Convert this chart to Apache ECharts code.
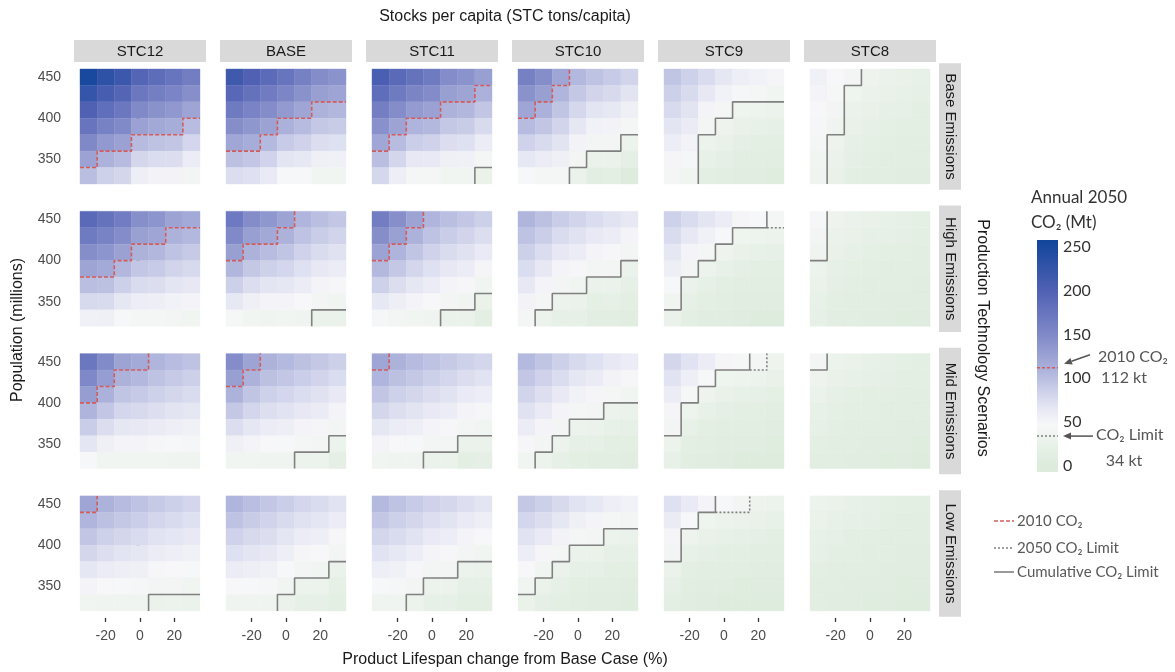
<!DOCTYPE html>
<html>
<head>
<meta charset="utf-8">
<script src="https://cdn.jsdelivr.net/npm/echarts@6/dist/echarts.min.js"></script>
<style>
  html, body { margin: 0; padding: 0; background: #ffffff; }
  #chart { width: 1175px; height: 672px; }
</style>
</head>
<body>
<div id="chart"></div>
<script>
// ---- facets, axes and ticks ----
const stcLabels = ['STC12', 'BASE', 'STC11', 'STC10', 'STC9', 'STC8'];
const scenarioLabels = ['Base Emissions', 'High Emissions', 'Mid Emissions', 'Low Emissions'];
const lifespanSteps = [-30, -20, -10, 0, 10, 20, 30];          // % change from base case
const populationSteps = [450, 430, 410, 390, 370, 350, 330];   // millions, top row first
const lifespanTicks = [-20, 0, 20];
const populationTicks = [350, 400, 450];
const colorbarTicks = [0, 50, 100, 150, 200, 250];
const co2Of2010 = 112;
const co2Limit = 34;

// ---- annual 2050 CO2 (Mt): one inner list per lifespan step (-30 ... 30),
//      each running from 450 down to 330 million people ----
const co2Base_STC12 = [
  [250,225,200,175,150,125,100],[232,208,183,159,134,110,85],[218,195,172,149,126,103,80],
  [195,172,149,126,103,80,57],[185,163,141,119,97,75,53],[176,156,135,115,94,74,53],[165,144,123,102,81,60,39]];
const co2Base_BASE = [
  [215,192,168,145,121,98,74],[200,179,157,136,115,93,72],[188,167,146,125,104,83,62],
  [176,154,133,111,90,68,47],[160,141,122,103,84,65,46],[146,128,110,92,74,56,38],[140,123,106,89,72,55,38]];
const co2Base_STC11 = [
  [205,184,163,142,121,100,79],[190,168,146,124,102,80,58],[178,155,132,109,87,64,42],
  [168,147,126,105,84,63,42],[146,128,110,92,74,56,38],[140,123,106,89,72,55,38],[128,111,94,77,60,43,26]];
const co2Base_STC10 = [
  [160,141,122,103,84,65,46],[145,128,111,94,77,60,43],[122,108,95,82,69,56,42],
  [105,92,79,66,53,40,27],[96,82,68,54,40,26,12],[90,78,65,53,40,28,15],[82,69,56,43,30,17,4]];
const co2Base_STC9 = [
  [95,86,77,68,59,50,41],[85,77,69,61,53,45,37],[76,64,52,40,30,22,15],
  [66,54,42,32,24,17,11],[58,45,33,24,17,12,8],[54,41,31,23,16,11,7],[50,38,29,21,15,10,6]];
const co2Base_STC8 = [
  [55,52,48,45,41,38,35],[48,44,40,36,32,28,24],[40,33,28,24,20,17,14],
  [32,28,24,21,18,15,12],[28,25,21,18,15,13,10],[25,22,19,16,13,11,9],[22,19,16,14,12,10,8]];

const co2High_STC12 = [
  [190,168,145,123,100,78,55],[178,158,138,118,98,77,56],[166,146,126,106,86,66,46],
  [144,127,110,93,76,59,42],[138,122,106,90,74,58,42],[124,110,96,82,68,54,40],[118,105,91,78,64,51,37]];
const co2High_BASE = [
  [170,149,128,107,86,65,44],[146,128,110,92,74,56,38],[136,119,102,85,68,51,36],
  [124,110,95,81,66,52,37],[108,96,84,72,60,48,36],[100,88,76,64,52,40,28],[93,82,71,60,49,38,27]];
const co2High_STC11 = [
  [165,145,125,105,85,65,45],[144,127,109,92,74,57,39],[124,110,95,81,66,52,37],
  [108,96,84,72,60,48,36],[100,88,76,64,52,40,28],[93,82,71,60,49,38,27],[86,74,62,50,38,26,14]];
const co2High_STC10 = [
  [108,97,86,75,64,53,42],[98,87,75,64,52,41,29],[88,76,64,52,40,29,20],
  [82,71,60,49,38,28,19],[75,63,51,39,27,18,11],[70,60,49,39,28,20,13],[64,52,40,28,20,14,9]];
const co2High_STC9 = [
  [85,76,66,57,47,38,28],[76,64,52,40,28,20,14],[68,55,42,29,20,14,9],
  [60,46,32,23,16,11,7],[50,33,24,17,12,8,5],[46,31,22,16,11,7,4],[42,29,21,15,10,7,4]];
const co2High_STC8 = [
  [45,40,35,30,26,22,19],[32,28,24,20,17,14,12],[28,24,21,18,15,12,10],
  [25,21,18,15,13,11,9],[22,19,16,13,11,9,7],[20,17,14,12,10,8,6],[18,15,13,11,9,7,5]];

const co2Mid_STC12 = [
  [172,151,130,109,88,67,46],[148,130,111,93,74,56,37],[124,110,95,81,66,52,37],
  [118,105,91,78,64,51,37],[108,96,85,73,61,49,37],[102,91,80,69,58,47,36],[96,86,76,66,55,45,35]];
const co2Mid_BASE = [
  [146,128,110,92,74,56,38],[124,110,95,81,66,52,37],[110,98,85,73,60,48,35],
  [104,93,81,70,58,47,35],[98,87,75,64,52,41,29],[92,82,71,61,50,40,29],[86,75,63,52,40,29,17]];
const co2Mid_STC11 = [
  [122,108,94,80,66,52,38],[110,98,85,73,60,48,35],[103,92,80,69,58,46,35],
  [97,86,74,63,51,40,28],[91,81,70,60,49,39,28],[85,74,62,51,39,28,16],[80,70,59,49,38,28,17]];
const co2Mid_STC10 = [
  [104,93,82,71,60,49,38],[95,84,73,62,51,40,29],[86,75,63,52,40,29,20],
  [78,66,54,42,30,21,14],[72,61,50,39,28,20,13],[64,53,41,30,22,15,10],[60,49,38,27,20,14,9]];
const co2Mid_STC9 = [
  [80,70,60,50,40,30,22],[70,57,44,31,22,16,11],[60,46,32,23,16,11,7],
  [50,33,24,17,12,8,5],[44,31,22,16,11,7,4],[40,29,21,15,10,7,4],[32,24,18,13,9,6,3]];
const co2Mid_STC8 = [
  [40,32,27,23,19,16,13],[30,25,21,18,15,12,10],[26,22,18,15,13,10,8],
  [23,19,16,14,11,9,7],[20,17,14,12,10,8,6],[18,15,13,11,9,7,5],[16,14,12,10,8,6,4]];

const co2Low_STC12 = [
  [122,108,94,80,66,52,38],[110,98,85,73,60,48,35],[103,92,80,69,58,46,35],
  [97,87,76,66,56,45,35],[91,81,70,60,49,39,28],[86,77,67,58,48,39,29],[81,72,63,55,46,37,28]];
const co2Low_BASE = [
  [108,96,84,72,60,48,36],[100,89,78,68,57,46,35],[93,83,74,64,55,45,35],
  [87,77,67,57,47,37,27],[81,71,60,50,39,29,20],[76,67,57,48,38,29,21],[70,60,49,39,28,20,14]];
const co2Low_STC11 = [
  [104,93,81,70,58,47,35],[96,86,76,65,55,45,35],[90,80,70,59,49,39,29],
  [84,73,62,51,40,29,19],[79,69,59,49,39,29,20],[73,62,51,40,29,21,15],[68,58,48,38,28,20,14]];
const co2Low_STC10 = [
  [92,81,70,59,48,37,26],[86,74,62,50,38,26,17],[78,66,53,41,28,20,14],
  [70,56,42,28,20,14,10],[65,52,39,26,19,13,9],[58,43,30,21,15,10,7],[54,40,28,20,14,9,6]];
const co2Low_STC9 = [
  [72,61,50,39,28,20,14],[62,47,32,23,16,11,7],[52,33,24,17,12,8,5],
  [46,30,22,16,11,7,4],[40,28,20,14,10,6,4],[32,24,17,12,8,5,3],[29,22,16,11,7,5,3]];
const co2Low_STC8 = [
  [30,26,22,19,16,13,11],[26,22,19,16,13,11,9],[23,19,16,14,11,9,7],
  [20,17,14,12,10,8,6],[18,15,13,11,9,7,5],[16,13,11,9,8,6,4],[14,12,10,8,7,5,4]];

// ---- limit boundaries: population edge per lifespan step (null = no edge in that step) ----
const N = null;
const edge2010_Base = [[340,360,360,380,380,380,400],[360,360,380,400,400,420,420],[360,380,400,400,420,420,440],[400,420,440,N,N,N,N],N,N];
const edge2010_High = [[380,380,400,420,420,440,440],[400,420,420,440,N,N,N],[400,420,440,N,N,N,N],N,N,N];
const edge2010_Mid  = [[400,420,440,440,N,N,N],[420,440,N,N,N,N,N],[440,N,N,N,N,N,N],N,N,N];
const edge2010_Low  = [[440,N,N,N,N,N,N],N,N,N,N,N];

const edgeCumulative_Base = [N,N,[N,N,N,N,N,N,340],[N,N,N,340,360,360,380],[N,N,380,400,420,420,420],[N,380,440,N,N,N,N]];
const edgeCumulative_High = [N,[N,N,N,N,N,340,340],[N,N,N,N,340,340,360],[N,340,360,360,380,380,400],[340,380,400,420,440,440,N],[400,N,N,N,N,N,N]];
const edgeCumulative_Mid  = [N,[N,N,N,N,340,340,360],[N,N,N,340,340,360,360],[N,340,360,380,380,400,400],[360,400,420,440,440,N,N],[440,N,N,N,N,N,N]];
const edgeCumulative_Low  = [[N,N,N,N,340,340,340],[N,N,N,340,360,360,380],[N,N,340,360,360,380,380],[340,360,380,400,400,420,420],[380,420,440,N,N,N,N],N];

const edge2050_Base = [N,N,[N,N,N,N,N,N,340],[N,N,N,340,360,360,380],[N,N,380,400,420,420,420],[N,380,440,N,N,N,N]];
const edge2050_High = [N,[N,N,N,N,N,340,340],[N,N,N,N,340,340,360],[N,340,360,360,380,380,400],[340,380,400,420,440,440,440],[400,N,N,N,N,N,N]];
const edge2050_Mid  = [N,[N,N,N,N,340,340,360],[N,N,N,340,340,360,360],[N,340,360,380,380,400,400],[360,400,420,440,440,440,N],[440,N,N,N,N,N,N]];
const edge2050_Low  = [[N,N,N,N,340,340,340],[N,N,N,340,360,360,380],[N,N,340,360,360,380,380],[340,360,380,400,400,420,420],[380,420,440,440,440,N,N],N];

// ---- assembled per facet row ----
const co2Rows = [
  [co2Base_STC12, co2Base_BASE, co2Base_STC11, co2Base_STC10, co2Base_STC9, co2Base_STC8],
  [co2High_STC12, co2High_BASE, co2High_STC11, co2High_STC10, co2High_STC9, co2High_STC8],
  [co2Mid_STC12, co2Mid_BASE, co2Mid_STC11, co2Mid_STC10, co2Mid_STC9, co2Mid_STC8],
  [co2Low_STC12, co2Low_BASE, co2Low_STC11, co2Low_STC10, co2Low_STC9, co2Low_STC8]];
const edge2010Rows = [edge2010_Base, edge2010_High, edge2010_Mid, edge2010_Low];
const edgeCumulativeRows = [edgeCumulative_Base, edgeCumulative_High, edgeCumulative_Mid, edgeCumulative_Low];
const edge2050Rows = [edge2050_Base, edge2050_High, edge2050_Mid, edge2050_Low];

// ---- colour scale: green below the limit, white, then deepening blue ----
const colorStops = [[0,'#dcebdc'],[20,'#e6f0e6'],[34,'#eff4ef'],[48,'#f7f7f9'],[70,'#e1e3f2'],
                    [112,'#aab0da'],[150,'#8089c8'],[200,'#5061b4'],[258,'#10459a']];
function hexRgb(h) { return [1,3,5].map(i => parseInt(h.slice(i, i + 2), 16)); }
function co2Color(v) {
  if (v <= colorStops[0][0]) return colorStops[0][1];
  for (let i = 1; i < colorStops.length; i++) {
    const [v1, c1] = colorStops[i];
    if (v <= v1) {
      const [v0, c0] = colorStops[i - 1];
      const t = (v - v0) / (v1 - v0), a = hexRgb(c0), b = hexRgb(c1);
      return 'rgb(' + a.map((x, k) => Math.round(x + (b[k] - x) * t)).join(',') + ')';
    }
  }
  return colorStops[colorStops.length - 1][1];
}

// ---- layout ----
const FONT = '"Liberation Sans", Arial, sans-serif';
const LEG_FONT = 'Lato, "Open Sans", sans-serif';
const tileLeft = 80, colPitch = 146, tileW = 120;
const tileTop = 69, rowPitch = 142.3, tileH = 115;
const panelPad = 6;
const halfStep = (lifespanSteps[1] - lifespanSteps[0]) / 2;
const halfPop = (populationSteps[0] - populationSteps[1]) / 2;
const xMin = lifespanSteps[0] - halfStep, xMax = lifespanSteps[6] + halfStep;
const yMin = populationSteps[6] - halfPop, yMax = populationSteps[0] + halfPop;
const cbMin = -7, cbMax = 258;
const limitGrey = '#808080', red2010 = '#d25c5c';

// staircase through the cell edges of one boundary
function stepPath(t) {
  if (!t) return [];
  const i0 = t.findIndex(v => v !== null);
  if (i0 < 0) return [];
  let i1 = t.length - 1;
  while (t[i1] === null) i1--;
  const pts = [];
  if (i0 > 0) pts.push([lifespanSteps[i0] - halfStep, yMin]);
  for (let i = i0; i <= i1; i++) {
    pts.push([lifespanSteps[i] - halfStep, t[i]]);
    pts.push([lifespanSteps[i] + halfStep, t[i]]);
  }
  if (i1 < t.length - 1) pts.push([lifespanSteps[i1] + halfStep, yMax]);
  return pts;
}
// pieces of one staircase that do not run along another (shared parts sit under the solid line)
function uniqueRuns(pts, other) {
  const key = (a, b) => [a, b].map(p => p.join(',')).sort().join('|');
  const shared = new Set();
  for (let i = 1; i < other.length; i++) shared.add(key(other[i - 1], other[i]));
  const runs = [];
  let cur = null;
  for (let i = 1; i < pts.length; i++) {
    const a = pts[i - 1], b = pts[i];
    if (a[0] === b[0] && a[1] === b[1]) continue;
    if (shared.has(key(a, b))) { cur = null; continue; }
    if (!cur) { cur = [a]; runs.push(cur); }
    cur.push(b);
  }
  return runs;
}

const grids = [], xAxes = [], yAxes = [], series = [];
for (let r = 0; r < 4; r++) {
  for (let c = 0; c < 6; c++) {
    const k = r * 6 + c;
    const isBottom = r === 3, isLeft = c === 0;
    grids.push({ left: tileLeft + c * colPitch, top: tileTop + r * rowPitch, width: tileW, height: tileH });
    xAxes.push({
      gridIndex: k, type: 'value', min: xMin, max: xMax, offset: 7,
      axisLine: { show: false }, splitLine: { show: false },
      axisTick: { show: isBottom, customValues: lifespanTicks, length: 4, lineStyle: { color: '#333', width: 1.3 } },
      axisLabel: { show: isBottom, customValues: lifespanTicks, margin: 11, color: '#4d4d4d', fontSize: 14, fontFamily: FONT }
    });
    yAxes.push({
      gridIndex: k, type: 'value', min: yMin, max: yMax, offset: 7,
      axisLine: { show: false }, splitLine: { show: false },
      axisTick: { show: isLeft, customValues: populationTicks, length: 4, lineStyle: { color: '#333', width: 1.3 } },
      axisLabel: { show: isLeft, customValues: populationTicks, margin: 12, color: '#4d4d4d', fontSize: 14, fontFamily: FONT }
    });
    const cells = [];
    co2Rows[r][c].forEach((col, ci) => col.forEach((v, pi) => cells.push([lifespanSteps[ci], populationSteps[pi], v])));
    series.push({
      type: 'custom', xAxisIndex: k, yAxisIndex: k, data: cells, encode: { x: 0, y: 1 },
      renderItem: (params, api) => {
        const x = api.value(0), y = api.value(1), v = api.value(2);
        const p0 = api.coord([x - halfStep, y + halfPop]);
        const p1 = api.coord([x + halfStep, y - halfPop]);
        return { type: 'rect', shape: { x: p0[0], y: p0[1], width: p1[0] - p0[0], height: p1[1] - p0[1] },
                 style: { fill: co2Color(v), stroke: co2Color(v), lineWidth: 0.4 } };
      }
    });
    const cumPts = stepPath(edgeCumulativeRows[r][c]);
    const addLine = (pts, style) => {
      if (pts.length > 1) series.push({ type: 'line', xAxisIndex: k, yAxisIndex: k, data: pts, symbol: 'none',
                                         lineStyle: style, silent: true, z: 3 });
    };
    uniqueRuns(stepPath(edge2050Rows[r][c]), cumPts)
      .forEach(run => addLine(run, { color: limitGrey, width: 1.6, type: [2, 2] }));
    addLine(cumPts, { color: limitGrey, width: 1.6, type: 'solid' });
    addLine(stepPath(edge2010Rows[r][c]), { color: red2010, width: 1.6, type: [4, 2] });
  }
}

// ---- colour bar ----
const cbGrid = grids.length;
grids.push({ left: 1037, top: 240, width: 21, height: 232 });
xAxes.push({ gridIndex: cbGrid, type: 'value', min: 0, max: 1, show: false });
yAxes.push({
  gridIndex: cbGrid, type: 'value', min: cbMin, max: cbMax, position: 'right',
  axisLine: { show: false }, splitLine: { show: false },
  axisTick: { show: true, inside: true, customValues: colorbarTicks, length: 4, lineStyle: { color: '#ffffff', width: 1 } },
  axisLabel: { customValues: colorbarTicks, margin: 5, color: '#333', fontSize: 16, fontFamily: LEG_FONT }
});
yAxes.push({
  gridIndex: cbGrid, type: 'value', min: cbMin, max: cbMax, position: 'left',
  axisLine: { show: false }, splitLine: { show: false }, axisLabel: { show: false },
  axisTick: { show: true, inside: true, customValues: colorbarTicks, length: 4, lineStyle: { color: '#ffffff', width: 1 } }
});
const cbStops = [{ offset: 0, color: co2Color(cbMin) }].concat(
  colorStops.map(([v, col]) => ({ offset: (v - cbMin) / (cbMax - cbMin), color: col })));
series.push({
  type: 'custom', xAxisIndex: cbGrid, yAxisIndex: yAxes.length - 2, data: [[0, cbMin, cbMax]],
  renderItem: (params, api) => {
    const a = api.coord([0, api.value(2)]), b = api.coord([1, api.value(1)]);
    return { type: 'rect', shape: { x: a[0], y: a[1], width: b[0] - a[0], height: b[1] - a[1] },
             style: { fill: new echarts.graphic.LinearGradient(0, 1, 0, 0, cbStops) } };
  }
});
series.push({ type: 'line', xAxisIndex: cbGrid, yAxisIndex: yAxes.length - 2, data: [[0, co2Of2010], [1, co2Of2010]],
              symbol: 'none', lineStyle: { color: red2010, width: 1.5, type: [3, 2] }, z: 3 });
series.push({ type: 'line', xAxisIndex: cbGrid, yAxisIndex: yAxes.length - 2, data: [[0, co2Limit], [1, co2Limit]],
              symbol: 'none', lineStyle: { color: limitGrey, width: 1.5, type: [2, 2] }, z: 3 });

const chart = echarts.init(document.getElementById('chart'), null, { renderer: 'canvas' });
chart.setOption({ animation: false, backgroundColor: '#ffffff', grid: grids, xAxis: xAxes, yAxis: yAxes, series: series });

// ---- strips, titles, annotations ----
function text(str, x, y, size, color, opts) {
  return Object.assign({ type: 'text', x: x, y: y, z: 10,
    style: { text: str, fill: color, font: size + 'px ' + ((opts && opts.font) || FONT),
             align: (opts && opts.align) || 'center', verticalAlign: 'middle' } }, (opts && opts.el) || {});
}
function arrow(x1, y1, x2, y2, color) {
  const ang = Math.atan2(y2 - y1, x2 - x1), len = 8, w = 3.5;
  const bx = x2 - len * Math.cos(ang), by = y2 - len * Math.sin(ang);
  const px = -Math.sin(ang) * w, py = Math.cos(ang) * w;
  return [
    { type: 'line', z: 10, shape: { x1: x1, y1: y1, x2: bx, y2: by }, style: { stroke: color, lineWidth: 1.5 } },
    { type: 'polygon', z: 10, shape: { points: [[x2, y2], [bx + px, by + py], [bx - px, by - py]] }, style: { fill: color } }
  ];
}
const g = [];
const panelW = tileW + 2 * panelPad, panelH = tileH + 2 * (tileH * 0.05);
stcLabels.forEach((lab, c) => {
  const x = tileLeft + c * colPitch - panelPad;
  g.push({ type: 'rect', z: 5, shape: { x: x, y: 40, width: panelW, height: 22 }, style: { fill: '#d9d9d9' } });
  g.push(text(lab, x + panelW / 2, 51.5, 15, '#1a1a1a'));
});
scenarioLabels.forEach((lab, r) => {
  const y = tileTop + r * rowPitch - tileH * 0.05;
  g.push({ type: 'rect', z: 5, shape: { x: 939, y: y, width: 22, height: panelH }, style: { fill: '#d9d9d9' } });
  g.push(text(lab, 950.5, y + panelH / 2, 15, '#1a1a1a', { el: { rotation: -Math.PI / 2 } }));
});
g.push(text('Stocks per capita (STC tons/capita)', 505, 17, 16, '#1a1a1a'));
g.push(text('Product Lifespan change from Base Case (%)', 505, 660, 16, '#1a1a1a'));
g.push(text('Population (millions)', 18, 330, 16, '#1a1a1a', { el: { rotation: Math.PI / 2 } }));
g.push(text('Production Technology Scenarios', 982, 338, 16, '#1a1a1a', { el: { rotation: -Math.PI / 2 } }));

// colour bar title and reference marks
g.push(text('Annual 2050', 1031, 198, 17, '#333', { font: LEG_FONT, align: 'left' }));
g.push(text('CO\u2082 (Mt)', 1031, 223, 17, '#333', { font: LEG_FONT, align: 'left' }));
const y2010 = chart.convertToPixel({ gridIndex: cbGrid }, [1, co2Of2010]);
const yLim = chart.convertToPixel({ gridIndex: cbGrid }, [1, co2Limit]);
g.push(...arrow(y2010[0] + 32, y2010[1] - 13, y2010[0] + 6, y2010[1] - 4, '#555'));
g.push(text('2010 CO\u2082', 1098, y2010[1] - 11, 16, '#555', { font: LEG_FONT, align: 'left' }));
g.push(text('112 kt', 1124, y2010[1] + 10, 16, '#555', { font: LEG_FONT }));
g.push(...arrow(yLim[0] + 35, yLim[1], yLim[0] + 5, yLim[1], '#555'));
g.push(text('CO\u2082 Limit', 1096, yLim[1] - 1, 16, '#555', { font: LEG_FONT, align: 'left' }));
g.push(text('34 kt', 1124, yLim[1] + 25, 16, '#555', { font: LEG_FONT }));

// line key
const keys = [['2010 CO\u2082', red2010, [4, 2], 521], ['2050 CO\u2082 Limit', limitGrey, [2, 2], 548],
              ['Cumulative CO\u2082 Limit', limitGrey, null, 572]];
keys.forEach(([lab, col, dash, y]) => {
  g.push({ type: 'line', z: 10, shape: { x1: 994, y1: y, x2: 1014, y2: y },
           style: { stroke: col, lineWidth: 1.6, lineDash: dash } });
  g.push(text(lab, 1017, y, 15, '#595959', { font: LEG_FONT, align: 'left' }));
});
chart.setOption({ graphic: g });
</script>
</body>
</html>
